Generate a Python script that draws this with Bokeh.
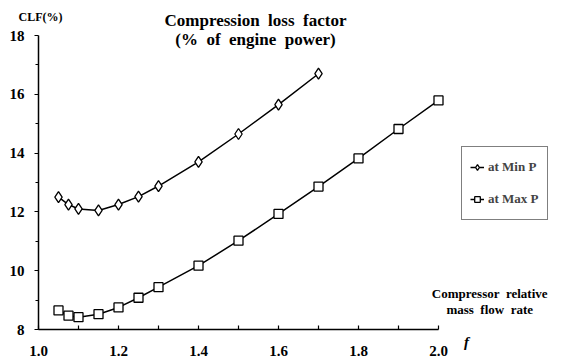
from bokeh.plotting import figure
from bokeh.models import Label, Legend, LegendItem, Range1d, FixedTicker, ColumnDataSource, PrintfTickFormatter
from bokeh.embed import file_html
from bokeh.resources import INLINE

f_min = [1.05, 1.075, 1.1, 1.15, 1.2, 1.25, 1.3, 1.4, 1.5, 1.6, 1.7]
clf_min = [12.5, 12.25, 12.1, 12.05, 12.25, 12.52, 12.88, 13.7, 14.65, 15.65, 16.7]
f_max = [1.05, 1.075, 1.1, 1.15, 1.2, 1.25, 1.3, 1.4, 1.5, 1.6, 1.7, 1.8, 1.9, 2.0]
clf_max = [8.65, 8.47, 8.42, 8.52, 8.75, 9.08, 9.44, 10.17, 11.02, 11.93, 12.86, 13.82, 14.82, 15.79]
x_ticks = [1.0, 1.2, 1.4, 1.6, 1.8, 2.0]
y_ticks = [8, 10, 12, 14, 16, 18]

FONT = "Liberation Serif"
NB = "\u00a0"
W, H = 561, 363
# frame covers whole canvas; axes drawn at fixed locations
X0_PX, PX_X = 38, 400.0      # x=1.0 at px 38, 400 px per unit
Y8_PX, PX_Y = 329, 29.4      # y=8 at px 329 from top, 29.4 px per unit
x_start = 1.0 - X0_PX / PX_X
x_end = 1.0 + (W - X0_PX) / PX_X
y_start = 8 - (H - Y8_PX) / PX_Y
y_end = 8 + Y8_PX / PX_Y

p = figure(width=W, height=H, output_backend="svg", toolbar_location=None,
           x_range=Range1d(x_start, x_end), y_range=Range1d(y_start, y_end), min_border=0)
p.outline_line_color = None
p.grid.visible = False
p.background_fill_color = "white"

for ax in (p.xaxis[0], p.yaxis[0]):
    ax.axis_line_width = 1.5
    ax.major_tick_line_width = 1.2
    ax.minor_tick_line_width = 1.2
    ax.major_label_text_font = FONT
    ax.major_label_text_font_style = "bold"
    ax.major_label_text_font_size = "15px"
    ax.major_label_text_color = "black"
    ax.axis_line_color = "black"

p.xaxis.fixed_location = 8
p.yaxis.fixed_location = 1.0
p.xaxis.bounds = (1.0, 2.0)
p.yaxis.bounds = (8, 18)
p.xaxis.ticker = FixedTicker(ticks=x_ticks, minor_ticks=[1.1, 1.3, 1.5, 1.7, 1.9])
p.yaxis.ticker = FixedTicker(ticks=y_ticks, minor_ticks=[9, 11, 13, 15, 17])
p.xaxis.formatter = PrintfTickFormatter(format="%.1f")
p.xaxis.major_tick_in = 4
p.xaxis.major_tick_out = 0
p.xaxis.minor_tick_in = 4
p.xaxis.minor_tick_out = 0
p.xaxis.major_label_standoff = 16
p.yaxis.major_tick_in = 0
p.yaxis.major_tick_out = 4
p.yaxis.minor_tick_in = 0
p.yaxis.minor_tick_out = 3
p.yaxis.major_label_standoff = 10

src_min = ColumnDataSource(dict(x=f_min, y=clf_min))
src_max = ColumnDataSource(dict(x=f_max, y=clf_max))

l1 = p.line("x", "y", source=src_min, line_color="black", line_width=1.5)
m1 = p.scatter("x", "y", source=src_min, marker="diamond", size=11, fill_color="white",
               line_color="black", line_width=1.3)
l2 = p.line("x", "y", source=src_max, line_color="black", line_width=1.5)
m2 = p.scatter("x", "y", source=src_max, marker="square", size=9, fill_color="white",
               line_color="black", line_width=1.3)

legend = Legend(items=[LegendItem(label="at Min P", renderers=[l1, m1]),
                       LegendItem(label="at Max P", renderers=[l2, m2])],
                location=(461, H - 220))
legend.label_text_font = FONT
legend.label_text_font_style = "bold"
legend.label_text_font_size = "13px"
legend.border_line_color = "black"
legend.border_line_width = 1.2
legend.glyph_width = 14
legend.label_standoff = 4
legend.spacing = 8
legend.padding = 8
legend.margin = 0
legend.label_height = 24
legend.glyph_height = 24
p.add_layout(legend, "center")

def lab(x, y, text, size, align="center", style="bold"):
    p.add_layout(Label(x=x, y=y, text=text, text_font=FONT, text_font_style=style,
                       text_font_size=size, text_align=align, text_baseline="middle",
                       text_color="black"))

lab(1.5425, 18.52, "Compression" + NB + NB + "loss" + NB + NB + "factor", "17px")
lab(1.5425, 17.85, "(%" + NB + NB + "of" + NB + NB + "engine" + NB + NB + "power)", "17px")
lab(0.95, 18.62, "CLF(%)", "12px", align="left")
lab(2.128, 9.23, "Compressor" + NB + NB + "relative", "13px")
lab(2.128, 8.68, "mass" + NB + NB + "flow" + NB + NB + "rate", "13px")
lab(2.07, 7.58, "f", "15px", style="bold italic")

open("out.html", "w").write(file_html(p, INLINE))
